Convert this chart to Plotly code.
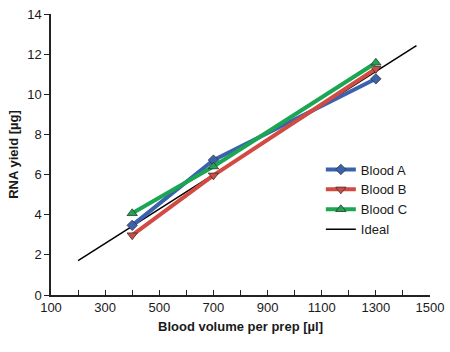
import plotly.graph_objects as go

volumes = [400, 700, 1300]
blood_a = [3.47, 6.72, 10.77]
blood_b = [2.98, 5.96, 11.27]
blood_c = [4.07, 6.40, 11.57]
ideal_x = [200, 1450]
ideal_y = [1.71, 12.43]

x_ticks = list(range(100, 1501, 100))
x_labels = [str(v) if (v - 100) % 200 == 0 else "" for v in x_ticks]
y_ticks = list(range(0, 15, 2))

fig = go.Figure()
fig.add_trace(go.Scatter(x=ideal_x, y=ideal_y, mode="lines", name="Ideal",
                         line=dict(color="black", width=1.5), legendrank=4))
series = [
    ("Blood A", blood_a, "#3a62ad", "diamond", 8),
    ("Blood B", blood_b, "#d24b43", "triangle-down", 9),
    ("Blood C", blood_c, "#1ca653", "triangle-up", 9),
]
for i, (name, ys, col, sym, sz) in enumerate(series):
    fig.add_trace(go.Scatter(x=volumes, y=ys, mode="lines+markers", name=name,
                             line=dict(color=col, width=4),
                             marker=dict(symbol=sym, size=sz, color=col,
                                         line=dict(color="#333333", width=0.8)),
                             legendrank=i + 1))

fig.update_layout(
    width=450, height=352,
    margin=dict(l=51, r=20, t=14, b=57, autoexpand=False),
    paper_bgcolor="white", plot_bgcolor="white",
    font=dict(family="Liberation Sans, Arial, sans-serif", color="#1a1a1a", size=13),
    showlegend=True,
    legend=dict(x=0.712, y=0.50, xanchor="left", yanchor="top",
                bgcolor="rgba(0,0,0,0)", font=dict(size=13),
                itemwidth=30, tracegroupgap=0),
)
fig.update_xaxes(range=[100, 1500], tickvals=x_ticks, ticktext=x_labels,
                 showline=True, linecolor="#222222", linewidth=1.5,
                 ticks="inside", ticklen=5, tickcolor="#222222",
                 showgrid=False, zeroline=False, automargin=False,
                 tickfont=dict(size=13),
                 title=dict(text="<b>Blood volume per prep [µl]</b>", font=dict(size=13), standoff=8))
fig.update_yaxes(range=[0, 14], tickvals=y_ticks,
                 showline=True, linecolor="#222222", linewidth=1.5,
                 ticks="outside", ticklen=5, tickcolor="#222222",
                 showgrid=False, zeroline=False, automargin=False,
                 tickfont=dict(size=13),
                 title=dict(text="<b>RNA yield [µg]</b>", font=dict(size=13), standoff=6))

fig.write_html("out.html")
